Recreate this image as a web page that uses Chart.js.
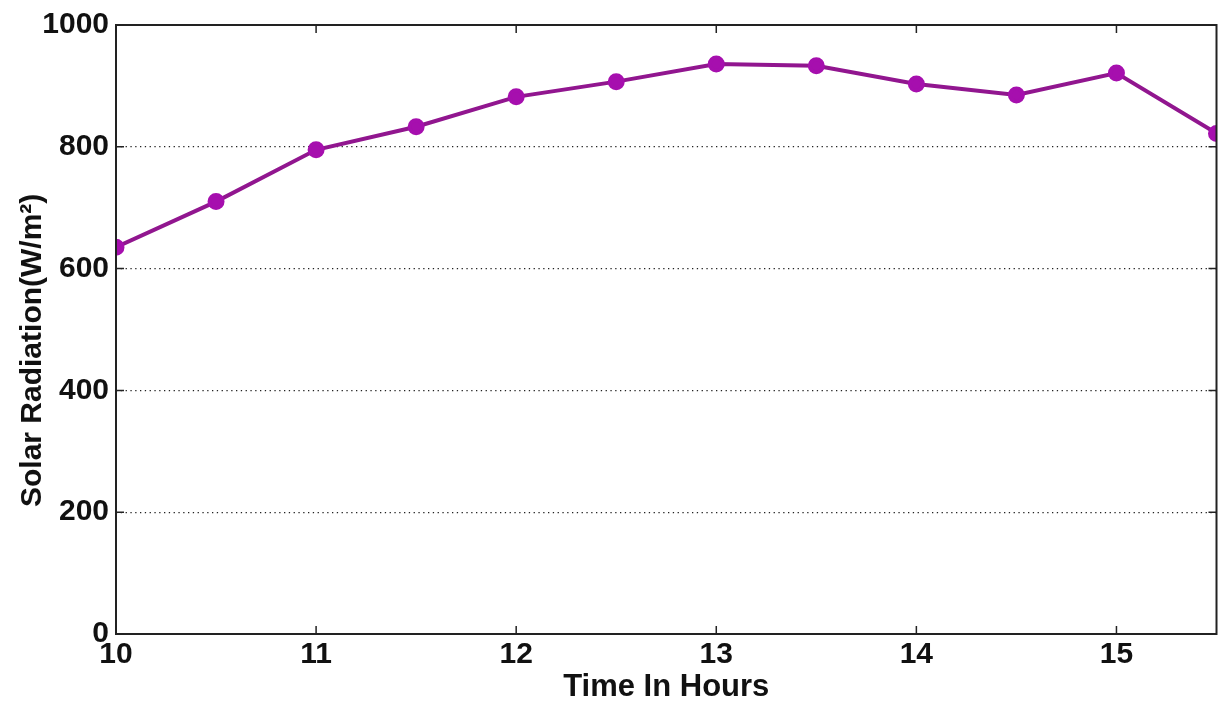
<!DOCTYPE html>
<html>
<head>
<meta charset="utf-8">
<script src="https://cdn.jsdelivr.net/npm/chart.js@4"></script>
<style>
  html, body { margin: 0; padding: 0; background: #fff; }
  #wrap { width: 1227px; height: 706px; }
</style>
</head>
<body>
<div id="wrap"><canvas id="solarChart" width="1227" height="706"></canvas></div>
<script>
// data
const hours = [10, 10.5, 11, 11.5, 12, 12.5, 13, 13.5, 14, 14.5, 15, 15.5];
const radiation = [635, 710, 795, 833, 882, 907, 936, 933, 903, 885, 921, 822];

// tick labels
const xTickValues = [10, 11, 12, 13, 14, 15];
const yTickValues = [0, 200, 400, 600, 800, 1000];

const fontFamily = '"Liberation Sans", Arial, sans-serif';

// box round the plot with inward ticks on all four sides
const frameTicks = {
    id: 'frameTicks',
    afterDraw(chart) {
        const ctx = chart.ctx;
        const area = chart.chartArea;
        const x = chart.scales.x;
        const y = chart.scales.y;
        const len = 8;
        ctx.save();
        ctx.strokeStyle = '#222';
        ctx.lineWidth = 2;
        ctx.strokeRect(area.left, area.top, area.right - area.left, area.bottom - area.top);
        ctx.lineWidth = 1.5;
        ctx.beginPath();
        xTickValues.forEach(v => {
            const px = x.getPixelForValue(v);
            ctx.moveTo(px, area.bottom);
            ctx.lineTo(px, area.bottom - len);
            ctx.moveTo(px, area.top);
            ctx.lineTo(px, area.top + len);
        });
        yTickValues.forEach(v => {
            const py = y.getPixelForValue(v);
            ctx.moveTo(area.left, py);
            ctx.lineTo(area.left + len, py);
            ctx.moveTo(area.right, py);
            ctx.lineTo(area.right - len, py);
        });
        ctx.stroke();
        ctx.restore();
    }
};

const ctx = document.getElementById('solarChart').getContext('2d');
new Chart(ctx, {
    type: 'line',
    data: {
        datasets: [{
            label: 'Solar Radiation',
            data: hours.map((h, i) => ({ x: h, y: radiation[i] })),
            borderColor: '#91168f',
            backgroundColor: '#a60fae',
            pointBackgroundColor: '#a60fae',
            pointBorderColor: '#a60fae',
            borderWidth: 4,
            pointRadius: 6.5,
            tension: 0
        }]
    },
    options: {
        responsive: false,
        animation: false,
        layout: {
            padding: { left: 0, right: 10, top: 21, bottom: 0 }
        },
        scales: {
            x: {
                type: 'linear',
                min: 10,
                max: 15.5,
                afterBuildTicks: scale => {
                    scale.ticks = xTickValues.map(v => ({ value: v }));
                },
                afterFit: scale => { scale.height = 72; },
                grid: { display: false, drawTicks: false },
                border: { display: false },
                ticks: {
                    color: '#111',
                    padding: 3,
                    maxRotation: 0,
                    callback: v => String(v),
                    font: { family: fontFamily, size: 30, weight: 'bold' }
                },
                title: {
                    display: true,
                    text: 'Time In Hours',
                    color: '#111',
                    padding: 0,
                    font: { family: fontFamily, size: 31, weight: 'bold' }
                }
            },
            y: {
                min: 0,
                max: 1000,
                afterBuildTicks: scale => {
                    scale.ticks = yTickValues.map(v => ({ value: v }));
                },
                afterFit: scale => { scale.width = 116; },
                grid: {
                    drawTicks: false,
                    color: c => (c.tick && c.tick.value > 0 && c.tick.value < 1000) ? '#222' : 'rgba(0,0,0,0)',
                    lineWidth: 1.3
                },
                border: { display: false, dash: [1.3, 3.5] },
                ticks: {
                    color: '#111',
                    padding: 7,
                    callback: v => String(v),
                    font: { family: fontFamily, size: 30, weight: 'bold' }
                },
                title: {
                    display: true,
                    // trailing spaces nudge the rotated title down a little
                    text: 'Solar Radiation(W/m²)     ',
                    color: '#111',
                    padding: { top: 15, bottom: 0 },
                    font: { family: fontFamily, size: 30, weight: 'bold' }
                }
            }
        },
        plugins: {
            legend: { display: false },
            tooltip: { enabled: false }
        }
    },
    plugins: [frameTicks]
});
</script>
</body>
</html>
